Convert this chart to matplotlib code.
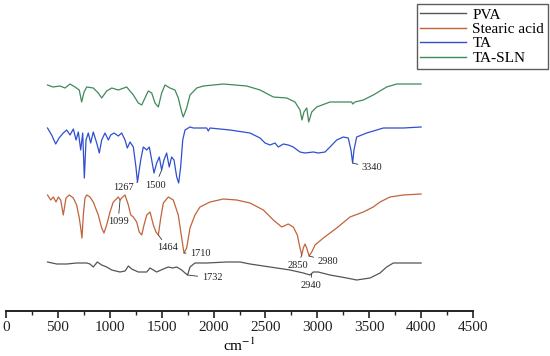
import matplotlib
matplotlib.use("Agg")
import matplotlib.pyplot as plt
from matplotlib.ticker import MultipleLocator

plt.rcParams['font.family'] = ['Liberation Serif', 'DejaVu Serif']
plt.rcParams['mathtext.fontset'] = 'stix'

# ---- data (wavenumber, cm-1 ; stacked transmittance, a.u.) ----
pva_wn = [400, 489, 585, 681, 778, 809, 841, 880, 922, 970, 1019, 1098, 1147, 1179, 1211,
          1275, 1356, 1388, 1452, 1516, 1564, 1606, 1645, 1693, 1725, 1750, 1773, 1821,
          1934, 2127, 2255, 2351, 2544, 2737, 2865, 2929, 2961, 3009, 3122, 3283, 3379,
          3508, 3604, 3668, 3732, 3861, 4000]
pva_t = [49, 47, 47, 48, 48, 47, 44, 49, 46, 44, 41, 39, 40, 45, 42,
         39, 39, 43, 39, 42, 44, 43, 44, 41, 38, 36, 44, 48,
         48, 49, 49, 47, 44, 41, 38, 36, 39, 39, 36, 33, 31,
         33, 38, 44, 48, 48, 48]

sa_wn = [400, 431, 456, 482, 504, 527, 552, 578, 610, 649, 681, 706, 720, 732, 745, 761,
         778, 809, 841, 889, 922, 944, 970, 1002, 1034, 1082, 1099, 1115, 1147, 1179, 1202,
         1227, 1259, 1284, 1308, 1330, 1356, 1388, 1420, 1445, 1468, 1491, 1516, 1564,
         1612, 1660, 1693, 1715, 1741, 1773, 1821, 1869, 1966, 2094, 2223, 2351, 2480,
         2576, 2657, 2720, 2768, 2807, 2833, 2850, 2865, 2881, 2898, 2920, 2946, 2978,
         3058, 3187, 3315, 3443, 3539, 3604, 3700, 3828, 4000]
sa_t = [116, 111, 114, 109, 114, 111, 96, 113, 116, 113, 106, 93, 83, 73, 96, 113,
        116, 114, 109, 96, 83, 78, 86, 99, 109, 114, 111, 113, 116, 106, 96,
        94, 89, 79, 76, 86, 96, 99, 86, 79, 76, 93, 108, 114,
        111, 96, 73, 58, 63, 83, 96, 104, 109, 112, 111, 108, 101,
        91, 84, 87, 84, 76, 63, 56, 63, 67, 63, 55, 59, 66,
        73, 83, 94, 99, 104, 109, 114, 116, 117]

ta_wn = [400, 440, 479, 511, 552, 585, 617, 649, 675, 697, 720, 739, 755, 771, 793, 816,
         841, 874, 899, 922, 954, 986, 1009, 1041, 1082, 1115, 1147, 1169, 1195, 1227,
         1252, 1267, 1298, 1323, 1356, 1381, 1404, 1426, 1452, 1477, 1500, 1522, 1548,
         1573, 1596, 1619, 1645, 1664, 1683, 1703, 1725, 1773, 1805, 1934, 1949, 1966,
         2158, 2351, 2448, 2496, 2544, 2592, 2624, 2672, 2720, 2768, 2833, 2881, 2961,
         3009, 3074, 3122, 3187, 3250, 3298, 3324, 3340, 3353, 3379, 3476, 3636, 3828, 4000]
ta_t = [183, 176, 167, 173, 178, 181, 176, 182, 171, 179, 161, 178, 133, 171, 178, 168,
        179, 168, 158, 171, 178, 171, 176, 178, 175, 178, 171, 163, 169, 164,
        144, 129, 151, 164, 161, 164, 151, 138, 148, 154, 141, 151, 158,
        144, 154, 151, 134, 128, 144, 171, 181, 184, 183, 183, 180, 183,
        181, 178, 173, 168, 166, 168, 164, 167, 166, 164, 159, 158, 159,
        158, 159, 164, 171, 174, 173, 161, 148, 161, 174, 178, 183, 183, 184]

sln_wn = [400, 453, 520, 569, 617, 665, 706, 729, 752, 778, 841, 889, 922, 970, 1019, 1082,
          1163, 1195, 1227, 1275, 1308, 1339, 1371, 1404, 1436, 1468, 1500, 1532, 1580,
          1628, 1660, 1693, 1708, 1741, 1773, 1838, 1901, 2094, 2319, 2448, 2576, 2705,
          2785, 2833, 2852, 2871, 2898, 2917, 2946, 2994, 3122, 3283, 3331, 3341, 3363,
          3443, 3539, 3668, 3765, 4000]
sln_t = [226, 224, 225, 223, 227, 224, 221, 209, 219, 224, 223, 218, 213, 220, 223, 221,
         224, 220, 216, 208, 206, 213, 220, 218, 208, 204, 218, 226, 223,
         221, 213, 199, 194, 203, 216, 223, 225, 227, 225, 221, 214, 213,
         209, 201, 191, 199, 203, 189, 199, 204, 209, 209, 209, 207, 209,
         211, 216, 224, 227, 227]

series_names = ['PVA', 'Stearic acid', 'TA', 'TA-SLN']
series_colors = ['#555555', '#c0643c', '#2f4fd0', '#3f8a5c']

peak_labels = ['3340', '1267', '1500', '1099', '1464', '1710', '1732', '2850', '2980', '2940']
peak_points = [(3340, 148), (1267, 129), (1500, 141), (1099, 111), (1468, 76),
               (1715, 58), (1750, 36), (2850, 56), (2920, 55), (2945, 37)]

x_ticks = [0, 500, 1000, 1500, 2000, 2500, 3000, 3500, 4000, 4500]

# ---- figure ----
fig = plt.figure(figsize=(5.5, 3.56), dpi=100)
ax = fig.add_axes([6 / 550, 45 / 356, 467 / 550, 311 / 356])

for wn, t, name, col in zip([pva_wn, sa_wn, ta_wn, sln_wn],
                            [pva_t, sa_t, ta_t, sln_t], series_names, series_colors):
    ax.plot(wn, t, color=col, lw=0.9, label=name)

text_pos = [(3430, 143, 'left'), (1233, 124, 'right'), (1440, 126, 'center'),
            (1080, 89, 'center'), (1561, 63, 'center'), (1874, 57, 'center'),
            (1985, 33, 'center'), (2809, 45, 'center'), (3103, 50, 'center'),
            (2934, 25, 'center')]
for lab, (px, py), (tx, ty, ha) in zip(peak_labels, peak_points, text_pos):
    ax.annotate(lab, xy=(px, py), xytext=(tx, ty), ha=ha, va='center',
                fontsize=7.5, color='#222222',
                arrowprops=dict(arrowstyle='-', color='#333333', lw=0.6,
                                shrinkA=1, shrinkB=0))

ax.set_xlim(0, 4500)
ax.set_ylim(0, 311)
ax.set_xticks(x_ticks)
ax.xaxis.set_minor_locator(MultipleLocator(250))
ax.tick_params(axis='x', which='major', direction='out', length=5, width=1.2,
               labelsize=11, pad=2, colors='#222222')
ax.tick_params(axis='x', which='minor', direction='out', length=3, width=1.0,
               colors='#222222')
ax.set_yticks([])
for s in ['left', 'right', 'top']:
    ax.spines[s].set_visible(False)
ax.spines['bottom'].set_linewidth(1.4)
ax.spines['bottom'].set_color('#222222')
ax.set_xlabel('cm$^{-1}$', fontsize=11, labelpad=2)
ax.patch.set_alpha(0)

leg = fig.legend(loc='upper right', bbox_to_anchor=(548 / 550, 1 - 4 / 356),
                 borderaxespad=0, fancybox=False, frameon=True, edgecolor='#333333',
                 fontsize=11, handlelength=3.0, handletextpad=0.4,
                 labelspacing=0.05, borderpad=0.25)
leg.get_frame().set_linewidth(1.0)
for line in leg.get_lines():
    line.set_linewidth(1.0)

fig.savefig('out.png', dpi=100)
